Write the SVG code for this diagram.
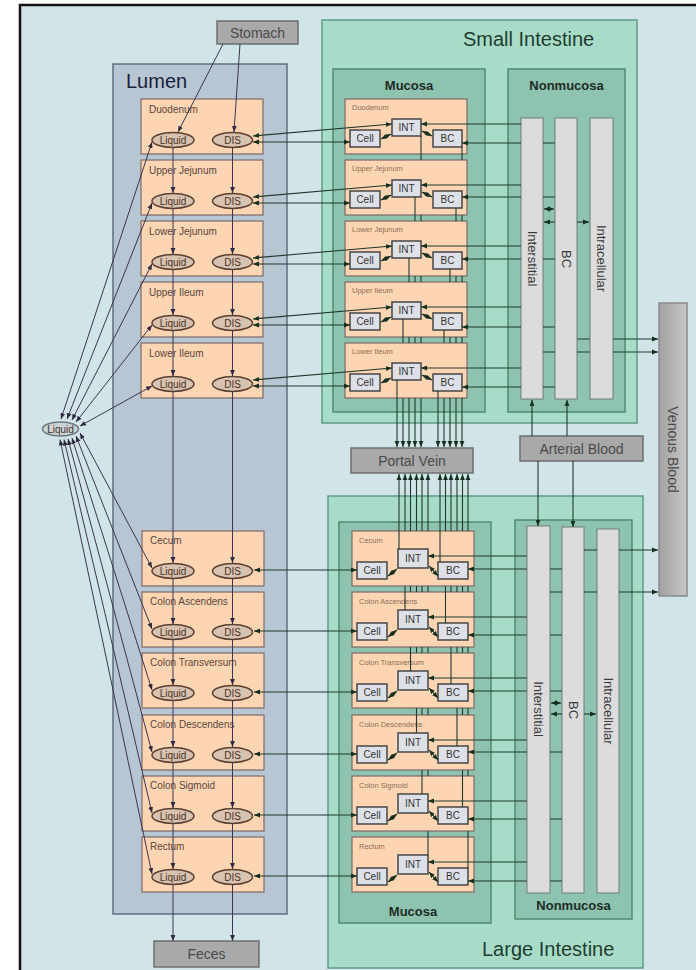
<svg xmlns="http://www.w3.org/2000/svg" width="696" height="970" viewBox="0 0 696 970">
<defs>
<marker id="la" viewBox="0 0 10 10" refX="10" refY="5" markerWidth="6" markerHeight="6" markerUnits="userSpaceOnUse" orient="auto-start-reverse"><path d="M0,1 L10,5 L0,9 z" fill="#2e2840"/></marker>
<marker id="ga" viewBox="0 0 10 10" refX="10" refY="5" markerWidth="6" markerHeight="6" markerUnits="userSpaceOnUse" orient="auto-start-reverse"><path d="M0,1 L10,5 L0,9 z" fill="#16301f"/></marker>
<linearGradient id="vg" x1="0" y1="0" x2="1" y2="0"><stop offset="0" stop-color="#a2a2a2"/><stop offset="1" stop-color="#c6c6c6"/></linearGradient>
</defs>
<style>
.seg{fill:#fdd5b3;stroke:#7c6a66;stroke-width:1.2}
.ell{fill:#d8c2b0;stroke:#5b3f30;stroke-width:1.5}
.et{font-family:"Liberation Sans",Arial,sans-serif;font-size:10px;fill:#4a3226;text-anchor:middle}
.lbl{font-family:"Liberation Sans",Arial,sans-serif;font-size:10px;fill:#5a463c}
.mlbl{font-family:"Liberation Sans",Arial,sans-serif;font-size:7.5px;fill:#8c6c55}
.box{fill:#dde1e7;stroke:#454545;stroke-width:1.5}
.bt{font-family:"Liberation Sans",Arial,sans-serif;font-size:10px;fill:#333;text-anchor:middle}
.col{fill:#dcdcdc;stroke:#6f7f78;stroke-width:1}
.ct{font-family:"Liberation Sans",Arial,sans-serif;font-size:13px;fill:#3a3a3a;text-anchor:middle;dominant-baseline:central}
.gray{fill:#a9a9a9;stroke:#6e6e6e;stroke-width:1.5}
.gt{font-family:"Liberation Sans",Arial,sans-serif;font-size:14px;fill:#4a4a4a;text-anchor:middle}
.intest{fill:#a8dcc8;stroke:#5c9c84;stroke-width:1.5}
.muc{fill:#8ec3b0;stroke:#4e8a73;stroke-width:1.5}
.mt{font-family:"Liberation Sans",Arial,sans-serif;font-size:13px;font-weight:bold;fill:#1c2c24;text-anchor:middle}
.title{font-family:"Liberation Sans",Arial,sans-serif;font-size:20px}
.lc{fill:none;stroke:#3c3450;stroke-width:1;marker-end:url(#la)}
.lc2{fill:none;stroke:#3c3450;stroke-width:1;marker-start:url(#la);marker-end:url(#la)}
.gc{fill:none;stroke:#1f3a2c;stroke-width:1.1;marker-end:url(#ga)}
.gc2{fill:none;stroke:#1f3a2c;stroke-width:1.1;marker-start:url(#ga);marker-end:url(#ga)}
</style>
<rect x="0" y="0" width="696" height="970" fill="#ffffff"/>
<rect x="20" y="5" width="690" height="980" fill="#d1e5e8" stroke="#111" stroke-width="2.5"/>

<!-- Containers -->
<g id="lumen"><rect x="113" y="64" width="174" height="850" fill="#b7c6d3" stroke="#5e6e80" stroke-width="1.5"/><text class="title" x="126" y="88" fill="#1a1f3a">Lumen</text></g>
<g id="small-intestine"><rect class="intest" x="322" y="20" width="315" height="403"/><text class="title" x="463" y="46" fill="#1e3d30">Small Intestine</text></g>
<g id="si-mucosa"><rect class="muc" x="333" y="69" width="152" height="343"/><text class="mt" x="409" y="90">Mucosa</text></g>
<g id="si-nonmucosa"><rect class="muc" x="508" y="69" width="117" height="343"/><text class="mt" x="566.5" y="90">Nonmucosa</text></g>
<g id="large-intestine"><rect class="intest" x="328" y="496" width="315" height="472"/><text class="title" x="482" y="956" fill="#1e3d30">Large Intestine</text></g>
<g id="li-mucosa"><rect class="muc" x="339" y="522" width="152" height="401"/><text class="mt" x="413" y="916">Mucosa</text></g>
<g id="li-nonmucosa"><rect class="muc" x="515" y="520" width="117" height="399"/><text class="mt" x="573.5" y="910">Nonmucosa</text></g>

<!-- Gray nodes -->
<g id="stomach"><rect class="gray" x="217" y="21" width="81" height="23"/><text class="gt" x="257.5" y="37.5">Stomach</text></g>
<g id="feces"><rect class="gray" x="154" y="941" width="105" height="26"/><text class="gt" x="206.5" y="959" fill="#555">Feces</text></g>
<g id="portal-vein"><rect class="gray" x="351" y="448" width="122" height="25"/><text class="gt" x="412" y="465.5" fill="#555">Portal Vein</text></g>
<g id="arterial-blood"><rect class="gray" x="520" y="436" width="123" height="25"/><text class="gt" x="581.5" y="453.5" fill="#555">Arterial Blood</text></g>
<g id="venous-blood"><rect x="659" y="303" width="28" height="293" fill="url(#vg)" stroke="#8a8a8a" stroke-width="1.5"/><text class="gt" x="673" y="449.5" font-size="15" fill="#555" dominant-baseline="central" transform="rotate(90 673 449.5)">Venous Blood</text></g>
<g id="systemic-liquid"><ellipse cx="60.5" cy="429" rx="18" ry="7" fill="#c9d4d8" stroke="#6f7880" stroke-width="1.5"/><text class="et" x="60.5" y="432.5" fill="#555">Liquid</text></g>

<!-- Lumen segments: small intestine -->
<g id="lumen-duodenum"><rect class="seg" x="141" y="99" width="122" height="55"/><text class="lbl" x="149" y="113">Duodenum</text></g>
<g id="lumen-upper-jejunum"><rect class="seg" x="141" y="160" width="122" height="55"/><text class="lbl" x="149" y="174">Upper Jejunum</text></g>
<g id="lumen-lower-jejunum"><rect class="seg" x="141" y="221" width="122" height="55"/><text class="lbl" x="149" y="235">Lower Jejunum</text></g>
<g id="lumen-upper-ileum"><rect class="seg" x="141" y="282" width="122" height="55"/><text class="lbl" x="149" y="296">Upper Ileum</text></g>
<g id="lumen-lower-ileum"><rect class="seg" x="141" y="343" width="122" height="55"/><text class="lbl" x="149" y="357">Lower Ileum</text></g>
<!-- Lumen segments: large intestine -->
<g id="lumen-cecum"><rect class="seg" x="142" y="531" width="122" height="55"/><text class="lbl" x="150" y="544">Cecum</text></g>
<g id="lumen-colon-ascendens"><rect class="seg" x="142" y="592" width="122" height="55"/><text class="lbl" x="150" y="605">Colon Ascendens</text></g>
<g id="lumen-colon-transversum"><rect class="seg" x="142" y="653" width="122" height="55"/><text class="lbl" x="150" y="666">Colon Transversum</text></g>
<g id="lumen-colon-descendens"><rect class="seg" x="142" y="715" width="122" height="55"/><text class="lbl" x="150" y="728">Colon Descendens</text></g>
<g id="lumen-colon-sigmoid"><rect class="seg" x="142" y="776" width="122" height="55"/><text class="lbl" x="150" y="789">Colon Sigmoid</text></g>
<g id="lumen-rectum"><rect class="seg" x="142" y="837" width="122" height="55"/><text class="lbl" x="150" y="850">Rectum</text></g>

<!-- Lumen ellipses -->
<g id="duodenum-liquid"><ellipse class="ell" cx="173" cy="140" rx="21" ry="7.5"/><text class="et" x="173" y="143.5">Liquid</text></g>
<g id="duodenum-dis"><ellipse class="ell" cx="232.5" cy="140" rx="20" ry="7.5"/><text class="et" x="232.5" y="143.5">DIS</text></g>
<g id="upper-jejunum-liquid"><ellipse class="ell" cx="173" cy="201" rx="21" ry="7.5"/><text class="et" x="173" y="204.5">Liquid</text></g>
<g id="upper-jejunum-dis"><ellipse class="ell" cx="232.5" cy="201" rx="20" ry="7.5"/><text class="et" x="232.5" y="204.5">DIS</text></g>
<g id="lower-jejunum-liquid"><ellipse class="ell" cx="173" cy="262" rx="21" ry="7.5"/><text class="et" x="173" y="265.5">Liquid</text></g>
<g id="lower-jejunum-dis"><ellipse class="ell" cx="232.5" cy="262" rx="20" ry="7.5"/><text class="et" x="232.5" y="265.5">DIS</text></g>
<g id="upper-ileum-liquid"><ellipse class="ell" cx="173" cy="323" rx="21" ry="7.5"/><text class="et" x="173" y="326.5">Liquid</text></g>
<g id="upper-ileum-dis"><ellipse class="ell" cx="232.5" cy="323" rx="20" ry="7.5"/><text class="et" x="232.5" y="326.5">DIS</text></g>
<g id="lower-ileum-liquid"><ellipse class="ell" cx="173" cy="384" rx="21" ry="7.5"/><text class="et" x="173" y="387.5">Liquid</text></g>
<g id="lower-ileum-dis"><ellipse class="ell" cx="232.5" cy="384" rx="20" ry="7.5"/><text class="et" x="232.5" y="387.5">DIS</text></g>
<g id="cecum-liquid"><ellipse class="ell" cx="173" cy="571" rx="21" ry="7.5"/><text class="et" x="173" y="574.5">Liquid</text></g>
<g id="cecum-dis"><ellipse class="ell" cx="232.5" cy="571" rx="20" ry="7.5"/><text class="et" x="232.5" y="574.5">DIS</text></g>
<g id="colon-ascendens-liquid"><ellipse class="ell" cx="173" cy="632" rx="21" ry="7.5"/><text class="et" x="173" y="635.5">Liquid</text></g>
<g id="colon-ascendens-dis"><ellipse class="ell" cx="232.5" cy="632" rx="20" ry="7.5"/><text class="et" x="232.5" y="635.5">DIS</text></g>
<g id="colon-transversum-liquid"><ellipse class="ell" cx="173" cy="693" rx="21" ry="7.5"/><text class="et" x="173" y="696.5">Liquid</text></g>
<g id="colon-transversum-dis"><ellipse class="ell" cx="232.5" cy="693" rx="20" ry="7.5"/><text class="et" x="232.5" y="696.5">DIS</text></g>
<g id="colon-descendens-liquid"><ellipse class="ell" cx="173" cy="755" rx="21" ry="7.5"/><text class="et" x="173" y="758.5">Liquid</text></g>
<g id="colon-descendens-dis"><ellipse class="ell" cx="232.5" cy="755" rx="20" ry="7.5"/><text class="et" x="232.5" y="758.5">DIS</text></g>
<g id="colon-sigmoid-liquid"><ellipse class="ell" cx="173" cy="816" rx="21" ry="7.5"/><text class="et" x="173" y="819.5">Liquid</text></g>
<g id="colon-sigmoid-dis"><ellipse class="ell" cx="232.5" cy="816" rx="20" ry="7.5"/><text class="et" x="232.5" y="819.5">DIS</text></g>
<g id="rectum-liquid"><ellipse class="ell" cx="173" cy="877" rx="21" ry="7.5"/><text class="et" x="173" y="880.5">Liquid</text></g>
<g id="rectum-dis"><ellipse class="ell" cx="232.5" cy="877" rx="20" ry="7.5"/><text class="et" x="232.5" y="880.5">DIS</text></g>

<!-- Small intestine mucosa segments -->
<g id="si-muc-duodenum"><rect class="seg" x="345" y="99" width="122" height="55"/><text class="mlbl" x="352" y="110">Duodenum</text>
<rect class="box" x="392" y="119" width="29" height="17"/><text class="bt" x="406.5" y="131">INT</text>
<rect class="box" x="350" y="130" width="30" height="17"/><text class="bt" x="365" y="142">Cell</text>
<rect class="box" x="433" y="130" width="29" height="17"/><text class="bt" x="447.5" y="142">BC</text></g>
<g id="si-muc-upper-jejunum"><rect class="seg" x="345" y="160" width="122" height="55"/><text class="mlbl" x="352" y="171">Upper Jejunum</text>
<rect class="box" x="392" y="180" width="29" height="17"/><text class="bt" x="406.5" y="192">INT</text>
<rect class="box" x="350" y="191" width="30" height="17"/><text class="bt" x="365" y="203">Cell</text>
<rect class="box" x="433" y="191" width="29" height="17"/><text class="bt" x="447.5" y="203">BC</text></g>
<g id="si-muc-lower-jejunum"><rect class="seg" x="345" y="221" width="122" height="55"/><text class="mlbl" x="352" y="232">Lower Jejunum</text>
<rect class="box" x="392" y="241" width="29" height="17"/><text class="bt" x="406.5" y="253">INT</text>
<rect class="box" x="350" y="252" width="30" height="17"/><text class="bt" x="365" y="264">Cell</text>
<rect class="box" x="433" y="252" width="29" height="17"/><text class="bt" x="447.5" y="264">BC</text></g>
<g id="si-muc-upper-ileum"><rect class="seg" x="345" y="282" width="122" height="55"/><text class="mlbl" x="352" y="293">Upper Ileum</text>
<rect class="box" x="392" y="302" width="29" height="17"/><text class="bt" x="406.5" y="314">INT</text>
<rect class="box" x="350" y="313" width="30" height="17"/><text class="bt" x="365" y="325">Cell</text>
<rect class="box" x="433" y="313" width="29" height="17"/><text class="bt" x="447.5" y="325">BC</text></g>
<g id="si-muc-lower-ileum"><rect class="seg" x="345" y="343" width="122" height="55"/><text class="mlbl" x="352" y="354">Lower Ileum</text>
<rect class="box" x="392" y="363" width="29" height="17"/><text class="bt" x="406.5" y="375">INT</text>
<rect class="box" x="350" y="374" width="30" height="17"/><text class="bt" x="365" y="386">Cell</text>
<rect class="box" x="433" y="374" width="29" height="17"/><text class="bt" x="447.5" y="386">BC</text></g>

<!-- Large intestine mucosa segments -->
<g id="li-muc-cecum"><rect class="seg" x="352" y="531" width="122" height="55"/><text class="mlbl" x="359" y="543">Cecum</text>
<rect class="box" x="398" y="549" width="30" height="19"/><text class="bt" x="413" y="562">INT</text>
<rect class="box" x="357" y="562" width="30" height="17"/><text class="bt" x="372" y="574">Cell</text>
<rect class="box" x="438" y="562" width="30" height="17"/><text class="bt" x="453" y="574">BC</text></g>
<g id="li-muc-colon-ascendens"><rect class="seg" x="352" y="592" width="122" height="55"/><text class="mlbl" x="359" y="604">Colon Ascendens</text>
<rect class="box" x="398" y="610" width="30" height="19"/><text class="bt" x="413" y="623">INT</text>
<rect class="box" x="357" y="623" width="30" height="17"/><text class="bt" x="372" y="635">Cell</text>
<rect class="box" x="438" y="623" width="30" height="17"/><text class="bt" x="453" y="635">BC</text></g>
<g id="li-muc-colon-transversum"><rect class="seg" x="352" y="653" width="122" height="55"/><text class="mlbl" x="359" y="665">Colon Transversum</text>
<rect class="box" x="398" y="671" width="30" height="19"/><text class="bt" x="413" y="684">INT</text>
<rect class="box" x="357" y="684" width="30" height="17"/><text class="bt" x="372" y="696">Cell</text>
<rect class="box" x="438" y="684" width="30" height="17"/><text class="bt" x="453" y="696">BC</text></g>
<g id="li-muc-colon-descendens"><rect class="seg" x="352" y="715" width="122" height="55"/><text class="mlbl" x="359" y="727">Colon Descendens</text>
<rect class="box" x="398" y="733" width="30" height="19"/><text class="bt" x="413" y="746">INT</text>
<rect class="box" x="357" y="746" width="30" height="17"/><text class="bt" x="372" y="758">Cell</text>
<rect class="box" x="438" y="746" width="30" height="17"/><text class="bt" x="453" y="758">BC</text></g>
<g id="li-muc-colon-sigmoid"><rect class="seg" x="352" y="776" width="122" height="55"/><text class="mlbl" x="359" y="788">Colon Sigmoid</text>
<rect class="box" x="398" y="794" width="30" height="19"/><text class="bt" x="413" y="807">INT</text>
<rect class="box" x="357" y="807" width="30" height="17"/><text class="bt" x="372" y="819">Cell</text>
<rect class="box" x="438" y="807" width="30" height="17"/><text class="bt" x="453" y="819">BC</text></g>
<g id="li-muc-rectum"><rect class="seg" x="352" y="837" width="122" height="55"/><text class="mlbl" x="359" y="849">Rectum</text>
<rect class="box" x="398" y="855" width="30" height="19"/><text class="bt" x="413" y="868">INT</text>
<rect class="box" x="357" y="868" width="30" height="17"/><text class="bt" x="372" y="880">Cell</text>
<rect class="box" x="438" y="868" width="30" height="17"/><text class="bt" x="453" y="880">BC</text></g>

<!-- Nonmucosa columns -->
<g id="si-interstitial"><rect class="col" x="521" y="118" width="22" height="281"/><text class="ct" x="532" y="258.5" transform="rotate(90 532 258.5)">Interstitial</text></g>
<g id="si-bc"><rect class="col" x="555" y="118" width="22" height="281"/><text class="ct" x="566" y="259" transform="rotate(90 566 259)">BC</text></g>
<g id="si-intracellular"><rect class="col" x="590" y="118" width="23" height="281"/><text class="ct" x="601.5" y="258.5" transform="rotate(90 601.5 258.5)">Intracellular</text></g>
<g id="li-interstitial"><rect class="col" x="527" y="526" width="23" height="367"/><text class="ct" x="538.5" y="709" transform="rotate(90 538.5 709)">Interstitial</text></g>
<g id="li-bc"><rect class="col" x="562" y="527" width="22" height="366"/><text class="ct" x="573" y="710" transform="rotate(90 573 710)">BC</text></g>
<g id="li-intracellular"><rect class="col" x="597" y="529" width="22" height="364"/><text class="ct" x="608" y="711" transform="rotate(90 608 711)">Intracellular</text></g>

<!-- Connectors -->
<g id="connectors">
<!-- stomach -->
<path class="lc" d="M223,44 L178,132"/>
<path class="lc" d="M240,44 L234,132"/>
<!-- liquid chain -->
<path class="lc" d="M173,147.5 V193"/>
<path class="lc" d="M173,208.5 V254"/>
<path class="lc" d="M173,269.5 V315"/>
<path class="lc" d="M173,330.5 V376"/>
<path class="lc" d="M173,391.5 V563"/>
<path class="lc" d="M173,578.5 V624"/>
<path class="lc" d="M173,639.5 V685"/>
<path class="lc" d="M173,700.5 V747"/>
<path class="lc" d="M173,762.5 V808"/>
<path class="lc" d="M173,823.5 V869"/>
<path class="lc" d="M173,884.5 V941"/>
<!-- DIS chain -->
<path class="lc" d="M232.5,147.5 V193"/>
<path class="lc" d="M232.5,208.5 V254"/>
<path class="lc" d="M232.5,269.5 V315"/>
<path class="lc" d="M232.5,330.5 V376"/>
<path class="lc" d="M232.5,391.5 V563"/>
<path class="lc" d="M232.5,578.5 V624"/>
<path class="lc" d="M232.5,639.5 V685"/>
<path class="lc" d="M232.5,700.5 V747"/>
<path class="lc" d="M232.5,762.5 V808"/>
<path class="lc" d="M232.5,823.5 V869"/>
<path class="lc" d="M232.5,884.5 V941"/>
<!-- systemic liquid exchange -->
<path class="lc2" d="M61,419 L152,142"/>
<path class="lc2" d="M67,419 L152,203"/>
<path class="lc2" d="M72,420 L152,264"/>
<path class="lc2" d="M76,422 L152,325"/>
<path class="lc2" d="M80,426 L152,386"/>
<path class="lc2" d="M80,433 L152,568"/>
<path class="lc2" d="M76,436 L152,629"/>
<path class="lc2" d="M72,438 L152,690"/>
<path class="lc2" d="M68,439 L152,752"/>
<path class="lc2" d="M64,439.5 L152,813"/>
<path class="lc2" d="M60,439.5 L152,874"/>
<!-- DIS to mucosa (small) -->
<path class="gc2" d="M253,136 L392,124"/>
<path class="gc2" d="M253,142 L350,142"/>
<path class="gc2" d="M253,197 L392,185"/>
<path class="gc2" d="M253,203 L350,203"/>
<path class="gc2" d="M253,258 L392,246"/>
<path class="gc2" d="M253,264 L350,264"/>
<path class="gc2" d="M253,319 L392,307"/>
<path class="gc2" d="M253,325 L350,325"/>
<path class="gc2" d="M253,380 L392,368"/>
<path class="gc2" d="M253,386 L350,386"/>
<!-- DIS to mucosa (large) -->
<path class="gc2" d="M254,570 L357,570"/>
<path class="gc2" d="M254,631 L357,631"/>
<path class="gc2" d="M254,692 L357,692"/>
<path class="gc2" d="M254,754 L357,754"/>
<path class="gc2" d="M254,815 L357,815"/>
<path class="gc2" d="M254,876 L357,876"/>
<!-- inside small mucosa -->
<path class="gc2" d="M381,139 L391,134"/><path class="gc2" d="M422,131 L432,136"/>
<path class="gc2" d="M381,200 L391,195"/><path class="gc2" d="M422,192 L432,197"/>
<path class="gc2" d="M381,261 L391,256"/><path class="gc2" d="M422,253 L432,258"/>
<path class="gc2" d="M381,322 L391,317"/><path class="gc2" d="M422,314 L432,319"/>
<path class="gc2" d="M381,383 L391,378"/><path class="gc2" d="M422,375 L432,380"/>
<!-- inside large mucosa -->
<path class="gc2" d="M388,576 L397,569"/><path class="gc2" d="M429,566 L438,576"/>
<path class="gc2" d="M388,637 L397,630"/><path class="gc2" d="M429,627 L438,637"/>
<path class="gc2" d="M388,698 L397,691"/><path class="gc2" d="M429,688 L438,698"/>
<path class="gc2" d="M388,760 L397,753"/><path class="gc2" d="M429,750 L438,760"/>
<path class="gc2" d="M388,821 L397,814"/><path class="gc2" d="M429,811 L438,821"/>
<path class="gc2" d="M388,882 L397,875"/><path class="gc2" d="M429,872 L438,882"/>
<!-- interstitial to INT -->
<path class="gc" d="M521,124 H421"/>
<path class="gc" d="M521,185 H421"/>
<path class="gc" d="M521,246 H421"/>
<path class="gc" d="M521,307 H421"/>
<path class="gc" d="M521,368 H421"/>
<path class="gc" d="M527,556 H428"/>
<path class="gc" d="M527,617 H428"/>
<path class="gc" d="M527,678 H428"/>
<path class="gc" d="M527,740 H428"/>
<path class="gc" d="M527,801 H428"/>
<path class="gc" d="M527,862 H428"/>
<!-- BC column to BC -->
<path class="gc" d="M555,143 H543 M521,143 H462"/>
<path class="gc" d="M555,197 H543 M521,197 H462"/>
<path class="gc" d="M555,259 H543 M521,259 H462"/>
<path class="gc" d="M555,327 H543 M521,327 H462"/>
<path class="gc" d="M555,387 H543 M521,387 H462"/>
<path class="gc" d="M562,569 H550 M527,569 H468"/>
<path class="gc" d="M562,635 H550 M527,635 H468"/>
<path class="gc" d="M562,691 H550 M527,691 H468"/>
<path class="gc" d="M562,752 H550 M527,752 H468"/>
<path class="gc" d="M562,819 H550 M527,819 H468"/>
<path class="gc" d="M562,881 H550 M527,881 H468"/>
<!-- small mucosa to portal vein -->
<path class="gc" d="M421,136 V160 M421,215 V221 M421,276 V282 M421,337 V343 M421,398 V447"/>
<path class="gc" d="M415,197 V221 M415,276 V282 M415,337 V343 M415,398 V447"/>
<path class="gc" d="M409,258 V282 M409,337 V343 M409,398 V447"/>
<path class="gc" d="M403,319 V343 M403,398 V447"/>
<path class="gc" d="M397,380 V447"/>
<path class="gc" d="M462,147 V160 M462,215 V221 M462,276 V282 M462,337 V343 M462,398 V447"/>
<path class="gc" d="M456,208 V221 M456,276 V282 M456,337 V343 M456,398 V447"/>
<path class="gc" d="M450,269 V282 M450,337 V343 M450,398 V447"/>
<path class="gc" d="M444,330 V343 M444,398 V447"/>
<path class="gc" d="M438,391 V447"/>
<!-- large mucosa to portal vein -->
<path class="gc" d="M399,549 V474"/>
<path class="gc" d="M405,610 V586 M405,531 V474"/>
<path class="gc" d="M410.5,671 V647 M410.5,592 V586 M410.5,531 V474"/>
<path class="gc" d="M416.5,733 V708 M416.5,653 V647 M416.5,592 V586 M416.5,531 V474"/>
<path class="gc" d="M422,794 V770 M422,715 V708 M422,653 V647 M422,592 V586 M422,531 V474"/>
<path class="gc" d="M428,855 V831 M428,776 V770 M428,715 V708 M428,653 V647 M428,592 V586 M428,531 V474"/>
<path class="gc" d="M440,562 V474"/>
<path class="gc" d="M445.5,623 V586 M445.5,531 V474"/>
<path class="gc" d="M451,684 V647 M451,592 V586 M451,531 V474"/>
<path class="gc" d="M457,746 V708 M457,653 V647 M457,592 V586 M457,531 V474"/>
<path class="gc" d="M462.5,807 V770 M462.5,715 V708 M462.5,653 V647 M462.5,592 V586 M462.5,531 V474"/>
<path class="gc" d="M468,868 V831 M468,776 V770 M468,715 V708 M468,653 V647 M468,592 V586 M468,531 V474"/>
<!-- arterial blood -->
<path class="gc" d="M532,436 V400"/>
<path class="gc" d="M567,436 V400"/>
<path class="gc" d="M538,461 V526"/>
<path class="gc" d="M573,461 V527"/>
<!-- nonmucosa internal -->
<path class="gc2" d="M544,209 H554"/>
<path class="gc" d="M555,222 H544"/>
<path class="gc" d="M577,222 H589"/>
<path class="gc2" d="M551,703 H561"/>
<path class="gc" d="M562,714 H551"/>
<path class="gc" d="M584,714 H596"/>
<!-- to venous blood -->
<path class="gc" d="M577,339 H590 M613,339 H658"/>
<path class="gc" d="M543,352 H555 M577,352 H590 M613,352 H658"/>
<path class="gc" d="M584,550 H597 M619,550 H658"/>
<path class="gc" d="M550,592 H562 M584,592 H597 M619,592 H658"/>
</g>
</svg>
